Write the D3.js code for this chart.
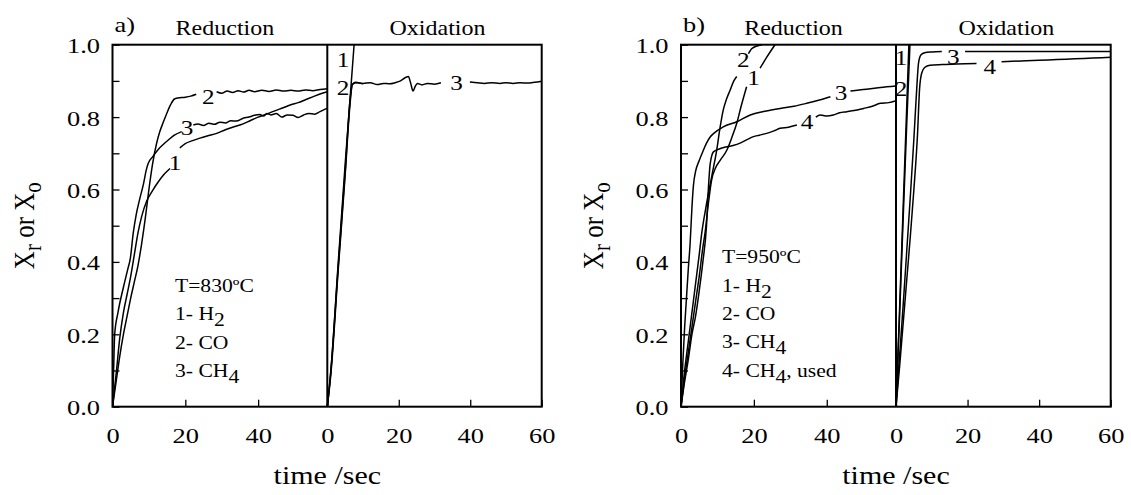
<!DOCTYPE html>
<html>
<head>
<meta charset="utf-8">
<script src="https://cdn.jsdelivr.net/npm/d3@7"></script>
<style>
  body { margin: 0; background: #fff; }
  svg text { font-family: "Liberation Serif", "Times New Roman", serif; fill: #000; }
</style>
</head>
<body>
<div id="chart"></div>
<script>
// ---- data -------------------------------------------------------------
const yTickVals = [0, 0.1, 0.2, 0.3, 0.4, 0.5, 0.6, 0.7, 0.8, 0.9, 1.0];
const yLabelVals = [0, 0.2, 0.4, 0.6, 0.8, 1.0];
const redTickVals = [0, 20, 40];
const oxTickVals = [0, 20, 40, 60];
const redDomain = [0, 59];
const oxDomain = [0, 60];

// panel a) 830 C, reduction  (time s, conversion); null = gap for the curve number
const aRedH2 = [[0,0],[1,0.09],[2,0.19],[3,0.26],[4,0.31],[5,0.36],[6,0.42],[7,0.48],[8,0.525],[9.4,0.568],[11,0.597],[12.5,0.62],[14,0.64],[15.8,0.658],null,
  [18.5,0.715],[20,0.727],[22,0.735],[24,0.742],[26,0.748],[28.6,0.755],[31,0.765],[33,0.772],[35,0.778],[37.8,0.79],[40,0.8],[42,0.807],[44,0.815],[46.9,0.826],[49,0.834],[51,0.84],[53,0.848],[55,0.856],[57,0.864],[59,0.87]];
const aRedCO = [[0,0],[1,0.07],[2,0.14],[3,0.2],[4,0.25],[5,0.3],[6,0.345],[7,0.39],[8,0.45],[9,0.52],[10,0.6],[11,0.67],[12.1,0.727],[13,0.76],[14,0.787],[14.9,0.81],[16,0.835],[17,0.85],[18,0.853],[20,0.855],[21.5,0.858],[23,0.863],null,
  [28.6,0.87],[30,0.866],[31.5,0.872],[33,0.868],[34.5,0.873],[36,0.869],[37.5,0.874],[39,0.87],[41,0.874],[43,0.871],[45,0.875],[47,0.872],[49,0.874],[51,0.872],[53,0.875],[55,0.873],[57,0.876],[59,0.878]];
const aRedCH4 = [[0,0],[0.3,0.1],[0.6,0.2],[1.5,0.26],[3,0.33],[4.2,0.38],[4.9,0.41],[5.7,0.48],[6.5,0.53],[7.5,0.575],[8.5,0.615],[9.3,0.655],[9.8,0.672],[11,0.69],[12.5,0.71],[14,0.725],[15.5,0.738],[17,0.75],[19,0.76],null,
  [22.2,0.778],[23.5,0.781],[25,0.777],[26.5,0.783],[28,0.78],[29.5,0.786],[31,0.784],[32.5,0.79],[34,0.789],[35.9,0.797],[37.5,0.8],[39,0.805],[40.5,0.807],[41.5,0.803],[42.4,0.81],[43.5,0.806],[45,0.81],[46.5,0.8],[48,0.806],[49.5,0.805],[51,0.799],[52.5,0.806],[54,0.81],[55.5,0.808],[57,0.815],[58,0.82],[59,0.824]];

// panel a) oxidation
const aOxH2 = [[0,0],[1,0.1],[3,0.39],[5,0.67],[7.5,1.0]];
const aOxCO = [[0,0],[1,0.1],[3,0.38],[5,0.65],[6.5,0.86],[7,0.89],[8,0.895],[10,0.892]];
const aOxCH4 = [[0,0],[1,0.09],[3,0.37],[5,0.64],[6.4,0.84],[7,0.89],[8,0.896],[10,0.893],[12,0.895],[14,0.89],[15.7,0.893],[17.5,0.892],[19,0.895],[20.5,0.9],[22,0.91],[22.7,0.912],[23.3,0.895],[24,0.872],[24.6,0.885],[25.2,0.893],[26.5,0.889],[28,0.893],[30,0.891],[31.8,0.895],null,
  [39.9,0.897],[42,0.895],[44,0.893],[46,0.895],[48.3,0.893],[50,0.895],[52,0.893],[54,0.895],[56,0.894],[58,0.896],[60,0.899]];

// panel b) 950 C, reduction
const bRedH2 = [[0,0],[1,0.08],[2,0.15],[3,0.22],[4,0.29],[5,0.36],[6,0.44],[6.6,0.48],[7.5,0.56],[8.4,0.626],[9.5,0.66],[10.7,0.68],[12.6,0.709],[14,0.745],[15.3,0.783],[16.5,0.83],[18,0.884],null,
  [21.7,0.935],[23.5,0.965],[25.8,1.0]];
const bRedCO = [[0,0],[1,0.1],[2,0.18],[3,0.26],[4,0.34],[5,0.42],[5.7,0.48],[7,0.56],[8.5,0.64],[9.8,0.709],[10.7,0.77],[11.6,0.82],[12.5,0.85],[13.5,0.875],[14.5,0.9],[15.3,0.912],null,
  [18.5,0.975],[19.5,0.99],[22.2,1.0]];
const bRedCH4 = [[0,0],[0.5,0.12],[1,0.22],[1.5,0.3],[2,0.38],[2.5,0.45],[3,0.55],[3.4,0.61],[4,0.65],[5,0.68],[6,0.705],[7,0.728],[8,0.745],[9,0.755],[11.6,0.773],[15.3,0.787],[19,0.806],[23,0.816],[27.2,0.824],[31,0.83],[34.5,0.838],[38,0.847],[41,0.856],null,
  [46.5,0.872],[50,0.876],[54.7,0.882],[59,0.886]];
const bRedCH4used = [[0,0],[1,0.07],[2,0.13],[3,0.2],[4,0.25],[5,0.32],[6,0.4],[7,0.5],[7.5,0.6],[8,0.67],[8.9,0.704],[10.5,0.712],[12.6,0.718],[14.5,0.722],[16.2,0.728],[18,0.737],[19.9,0.746],[21.5,0.75],[23.5,0.755],[25.5,0.762],[27.2,0.769],[29.5,0.772],[31.8,0.778],null,
  [37,0.8],[38.2,0.806],[40,0.803],[41.8,0.806],[43.5,0.812],[45.5,0.815],[47.5,0.818],[50.1,0.824],[52.5,0.83],[54.7,0.838],[57,0.84],[59,0.845]];

// panel b) oxidation
const bOxH2 = [[0,0],[1,0.27],[2,0.55],[3,0.83],[3.6,1.0]];
const bOxCO = [[0,0],[1,0.25],[2,0.52],[3,0.78],[3.9,1.0]];
const bOxCH4 = [[0,0],[1,0.14],[2,0.28],[3,0.43],[4,0.58],[5,0.74],[5.8,0.88],[6.3,0.95],[7,0.972],[8,0.978],[10,0.98],[12.8,0.981],null,
  [19.3,0.981],[30,0.981],[40,0.981],[50,0.981],[60,0.981]];
const bOxCH4used = [[0,0],[1,0.11],[2,0.23],[3,0.35],[4,0.47],[5,0.6],[6,0.75],[6.6,0.88],[7.2,0.922],[8,0.937],[9.5,0.943],[13,0.945],[17,0.947],[22.5,0.948],null,
  [29.5,0.953],[35,0.955],[40,0.957],[45,0.959],[50,0.961],[55,0.963],[60,0.965]];

// curve numbers written on the plot: [label, time, conversion]
const aRedLabels = [["1",17.2,0.672],["2",26.3,0.855],["3",20.5,0.769]];
const aOxLabels = [["1",4.4,0.958],["2",4.4,0.88],["3",36.2,0.895]];
const bRedLabels = [["1",19.9,0.907],["2",17.1,0.958],["3",43.9,0.866],["4",34.6,0.787]];
const bOxLabels = [["1",1.4,0.962],["2",1.4,0.877],["3",16,0.967],["4",26.2,0.939]];

// legend lines: [text, subscript, trailing text]
const aLegend = [["T=830ºC"],["1- H","2"],["2- CO"],["3- CH","4"]];
const bLegend = [["T=950ºC"],["1- H","2"],["2- CO"],["3- CH","4"],["4- CH","4",", used"]];

// ---- layout -------------------------------------------------------------
const width = 1131, height = 495;
const SX = 1.2;              // lettering in the source is stretched horizontally
const plotTop = 44.7, plotBottom = 406.7;

const svg = d3.select("#chart")
  .append("svg")
  .attr("width", width)
  .attr("height", height);

const y = d3.scaleLinear().domain([0, 1]).range([plotBottom, plotTop]);

function addText(g, x, yy, size, anchor) {
  return g.append("text")
    .attr("transform", `translate(${x},${yy}) scale(${SX},1)`)
    .attr("font-size", size)
    .attr("text-anchor", anchor || "start");
}

const panels = [
  { tag: "a)", x0: 112.5, xm: 327.3, x1: 541.7,
    red: [aRedH2, aRedCO, aRedCH4], ox: [aOxH2, aOxCO, aOxCH4],
    redLabels: aRedLabels, oxLabels: aOxLabels,
    legend: aLegend, legX: 175, legY: 291.7, legStep: 28.5, ytitleX: 33.5 },
  { tag: "b)", x0: 681, xm: 896, x1: 1110.7,
    red: [bRedH2, bRedCO, bRedCH4, bRedCH4used], ox: [bOxH2, bOxCO, bOxCH4, bOxCH4used],
    redLabels: bRedLabels, oxLabels: bOxLabels,
    legend: bLegend, legX: 722, legY: 263.3, legStep: 28.3, ytitleX: 603 }
];

panels.forEach(function (p, i) {
  const g = svg.append("g");
  const xr = d3.scaleLinear().domain(redDomain).range([p.x0, p.xm]);
  const xo = d3.scaleLinear().domain(oxDomain).range([p.xm, p.x1]);

  // clip each half to its frame
  const clipId = "clip" + i;
  svg.append("defs").append("clipPath").attr("id", clipId)
    .append("rect")
    .attr("x", p.x0).attr("y", plotTop)
    .attr("width", p.x1 - p.x0).attr("height", plotBottom - plotTop);

  // Y axis with inward ticks
  const yAxis = g.append("g")
    .attr("transform", `translate(${p.x0},0)`)
    .call(d3.axisLeft(y).tickValues(yTickVals).tickSize(-7)
      .tickFormat(d => yLabelVals.some(v => Math.abs(v - d) < 1e-9) ? d3.format(".1f")(d) : ""));
  yAxis.select(".domain").remove();
  yAxis.selectAll(".tick line").attr("stroke", "#000").attr("stroke-width", 1.3);
  yAxis.selectAll(".tick text")
    .attr("x", null).attr("dy", null)
    .attr("transform", `translate(-12.5,8) scale(${SX},1)`)
    .attr("font-size", 22)
    .style("font-family", "Liberation Serif")
    .attr("text-anchor", "end");

  // X axes (reduction and oxidation halves)
  [[xr, redTickVals], [xo, oxTickVals]].forEach(function (a) {
    const ax = g.append("g")
      .attr("transform", `translate(0,${plotBottom})`)
      .call(d3.axisBottom(a[0]).tickValues(a[1]).tickSize(-7));
    ax.select(".domain").remove();
    ax.selectAll(".tick line").attr("stroke", "#000").attr("stroke-width", 1.3);
    ax.selectAll(".tick text")
      .attr("y", null).attr("dy", null)
      .attr("transform", `translate(0,36.5) scale(${SX},1)`)
      .attr("font-size", 22)
      .style("font-family", "Liberation Serif");
  });

  // frame and divider
  g.append("rect")
    .attr("x", p.x0).attr("y", plotTop)
    .attr("width", p.x1 - p.x0).attr("height", plotBottom - plotTop)
    .attr("fill", "none").attr("stroke", "#000").attr("stroke-width", 2);
  g.append("line")
    .attr("x1", p.xm).attr("x2", p.xm)
    .attr("y1", plotTop).attr("y2", plotBottom)
    .attr("stroke", "#000").attr("stroke-width", 2);

  // curves
  const curves = g.append("g").attr("clip-path", `url(#${clipId})`);
  function drawCurves(series, x) {
    const line = d3.line()
      .defined(d => d !== null)
      .x(d => x(d[0]))
      .y(d => y(d[1]))
      .curve(d3.curveMonotoneX);
    curves.selectAll(null)
      .data(series)
      .join("path")
      .attr("fill", "none")
      .attr("stroke", "#000")
      .attr("stroke-width", 1.5)
      .attr("d", line);
  }
  drawCurves(p.red, xr);
  drawCurves(p.ox, xo);

  // curve numbers
  function drawLabels(labels, x) {
    labels.forEach(function (l) {
      addText(g, x(l[1]), y(l[2]) + 7, 21, "middle").text(l[0]);
    });
  }
  drawLabels(p.redLabels, xr);
  drawLabels(p.oxLabels, xo);

  // legend
  p.legend.forEach(function (row, k) {
    const t = addText(g, p.legX, p.legY + k * p.legStep, 18);
    t.append("tspan").text(row[0]);
    if (row[1]) t.append("tspan").attr("dy", 6).text(row[1]);
    if (row[2]) t.append("tspan").attr("dy", -6).text(row[2]);
  });

  // titles
  addText(g, p.x0 + 2, 31.5, 22).text(p.tag);
  addText(g, (p.x0 + p.xm) / 2 + 5, 35, 20, "middle").text("Reduction");
  addText(g, (p.xm + p.x1) / 2 + 3, 35, 20, "middle").text("Oxidation");
  addText(g, p.xm, 484, 25, "middle").text("time /sec");

  // rotated y title
  const yt = g.append("text")
    .attr("transform", `translate(${p.ytitleX},${(plotTop + plotBottom) / 2}) scale(${SX},1) rotate(-90)`)
    .attr("font-size", 25)
    .attr("text-anchor", "middle");
  yt.append("tspan").text("X");
  yt.append("tspan").attr("dy", 6).attr("font-size", 21).text("r");
  yt.append("tspan").attr("dy", -6).text(" or X");
  yt.append("tspan").attr("dy", 6).attr("font-size", 21).text("o");
});
</script>
</body>
</html>
